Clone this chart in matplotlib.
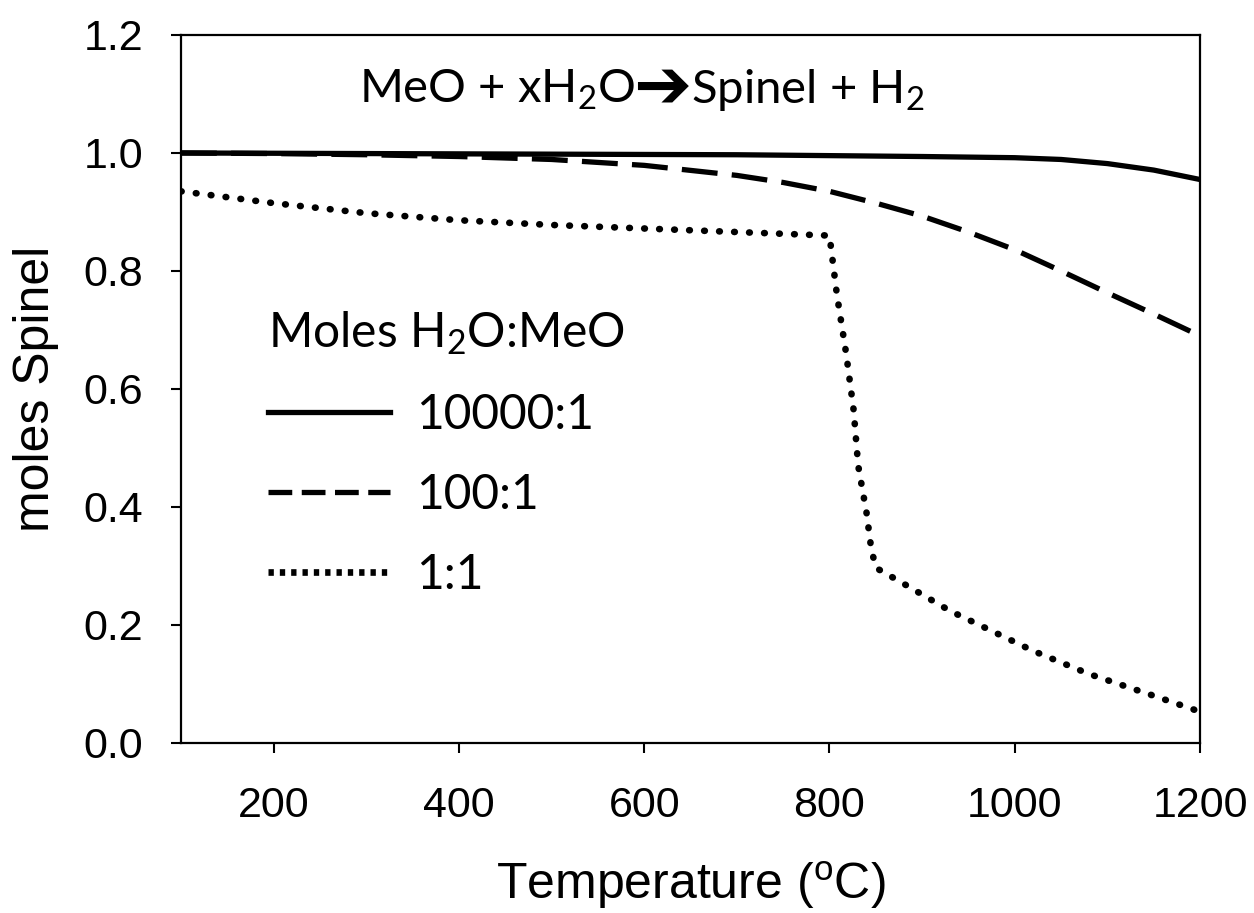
import matplotlib
matplotlib.use("Agg")
import matplotlib.pyplot as plt

# temperature (C) and moles spinel for three H2O:MeO ratios
t_solid = [100, 300, 500, 700, 900, 1000, 1050, 1100, 1150, 1200]
v_solid = [1.0, 0.999, 0.998, 0.997, 0.994, 0.992, 0.989, 0.982, 0.971, 0.955]

t_dash = [100, 200, 300, 400, 500, 600, 700, 750, 800, 850, 900, 950, 1000, 1050, 1100, 1150, 1200]
v_dash = [1.0, 0.999, 0.997, 0.994, 0.989, 0.979, 0.962, 0.95, 0.935, 0.915, 0.893, 0.866, 0.836, 0.80, 0.763, 0.727, 0.69]

t_dot = [100, 200, 300, 400, 500, 600, 700, 800, 808, 818, 826, 831, 840, 845, 850, 880, 930, 975, 1020, 1080, 1150, 1200]
v_dot = [0.935, 0.915, 0.898, 0.886, 0.878, 0.872, 0.866, 0.860, 0.76, 0.66, 0.565, 0.47, 0.39, 0.33, 0.297, 0.27, 0.224, 0.19, 0.156, 0.117, 0.08, 0.053]

labels = ["10000:1", "100:1", "1:1"]
xticks = [200, 400, 600, 800, 1000, 1200]
yticks = [0.0, 0.2, 0.4, 0.6, 0.8, 1.0, 1.2]

plt.rcParams['font.family'] = ['Liberation Sans', 'DejaVu Sans']
plt.rcParams['mathtext.fontset'] = 'custom'
plt.rcParams['mathtext.rm'] = 'Lato'
plt.rcParams['mathtext.it'] = 'Lato:italic'
plt.rcParams['mathtext.bf'] = 'Lato:bold'
txtfont = ['Lato', 'DejaVu Sans']
fs_txt = 34.5

fig = plt.figure(figsize=(12.54, 9.13), dpi=100)
ax = fig.add_axes([0.1443, 0.1862, 0.8127, 0.7755])

lw = 3.8
ax.plot(t_solid, v_solid, color="black", lw=lw, label=labels[0])
ax.plot(t_dash, v_dash, color="black", lw=lw, linestyle=(0, (6.8, 2.7)), label=labels[1])
ax.plot(t_dot, v_dot, color="black", lw=4.8, linestyle=(0, (0.1, 2.15)),
        dash_capstyle="round", label=labels[2])

ax.set_xlim(100, 1200)
ax.set_ylim(0, 1.2)
ax.set_xticks(xticks)
ax.set_yticks(yticks)
ax.set_yticklabels(["%.1f" % v for v in yticks])
ax.tick_params(direction="out", length=7, width=1.5, labelsize=31, pad=20)
ax.tick_params(axis="x", pad=24)
for s in ax.spines.values():
    s.set_linewidth(1.6)

ax.set_xlabel(r"Temperature ($^{\mathregular{o}}$C)", fontsize=36, labelpad=24)
ax.set_ylabel("moles Spinel", fontsize=36, labelpad=18)

# reaction text, built in three pieces so the arrow can come from DejaVu
r = fig.canvas.get_renderer()
inv = ax.transAxes.inverted()
x0, ybase = 0.1747, 0.904
t1 = ax.text(x0, ybase, r"MeO + xH$_2$O", transform=ax.transAxes,
             ha="left", va="baseline", fontsize=34, family=txtfont)
bb = t1.get_window_extent(r)
xa = inv.transform((bb.x1 - 2, 0))[0]
t2 = ax.text(xa, ybase - 0.006, "➔", transform=ax.transAxes,
             ha="left", va="baseline", fontsize=50, family="DejaVu Sans",
             fontweight="bold")
bb = t2.get_window_extent(r)
xb = inv.transform((bb.x1 - 1, 0))[0]
ax.text(xb, ybase, r"Spinel + H$_2$", transform=ax.transAxes,
        ha="left", va="baseline", fontsize=34, family=txtfont)

leg = ax.legend(loc="upper left", bbox_to_anchor=(0.085, 0.612), frameon=False,
                title=r"Moles H$_2$O:MeO", prop={'family': txtfont, 'size': fs_txt},
                title_fontproperties={'family': txtfont, 'size': fs_txt},
                handlelength=2.55, handletextpad=0.55, labelspacing=0.75,
                borderpad=0, borderaxespad=0, alignment="left")
leg.legend_handles[2].set_linestyle((0, (0.8, 0.9)))
leg.legend_handles[2].set_dash_capstyle("butt")
leg.legend_handles[1].set_linestyle((0, (4.5, 1.8)))

fig.savefig("out.png", dpi=100)
